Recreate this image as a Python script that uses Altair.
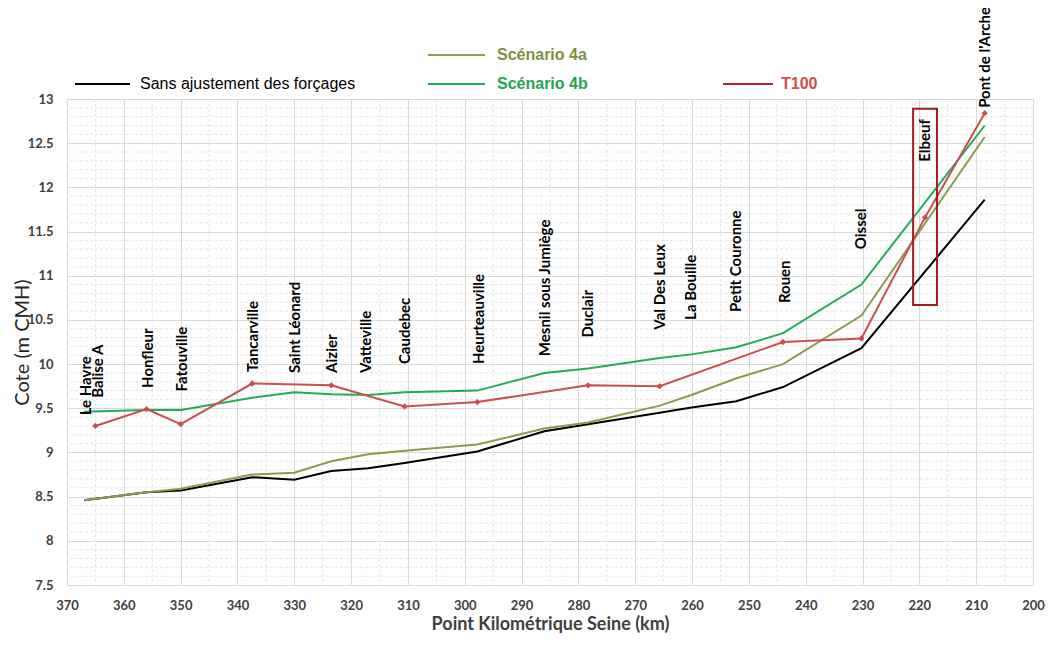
import altair as alt
import pandas as pd

# ---------------- data ----------------
stations = ["Le Havre", "Honfleur", "Fatouville", "Tancarville", "Saint Léonard", "Aizier",
            "Vatteville", "Caudebec", "Heurteauville", "Mesnil sous Jumiège", "Duclair",
            "Val Des Leux", "La Bouille", "Petit Couronne", "Rouen", "Oissel", "Pont de l'Arche"]
station_km = [367, 356, 350, 337.4, 330, 323.5, 317, 310.6, 297.8, 286, 278.3,
              265.7, 260.1, 252.2, 244, 230.2, 208.5]
sans_ajustement = [8.46, 8.55, 8.57, 8.72, 8.69, 8.79, 8.82, 8.88, 9.01, 9.24, 9.32,
                   9.45, 9.51, 9.58, 9.74, 10.18, 11.86]
scenario_4a = [8.46, 8.55, 8.59, 8.75, 8.77, 8.90, 8.98, 9.02, 9.09, 9.27, 9.34,
               9.53, 9.65, 9.84, 10.00, 10.55, 12.57]
scenario_4b = [9.46, 9.48, 9.48, 9.62, 9.68, 9.66, 9.65, 9.68, 9.70, 9.90, 9.95,
               10.07, 10.11, 10.19, 10.35, 10.90, 12.70]

t100_km = [365, 356, 350, 337.4, 323.5, 310.6, 297.8, 278.3, 265.7, 244, 230.2, 219, 208.5]
t100 = [9.30, 9.49, 9.32, 9.78, 9.76, 9.52, 9.57, 9.76, 9.75, 10.25, 10.29, 11.66, 12.84]

label_names = ["Le Havre", "Balise A", "Honfleur", "Fatouville", "Tancarville", "Saint Léonard",
               "Aizier", "Vatteville", "Caudebec", "Heurteauville", "Mesnil sous Jumiège",
               "Duclair", "Val Des Leux", "La Bouille", "Petit Couronne", "Rouen", "Oissel",
               "Elbeuf", "Pont de l'Arche"]
label_km = [366.6, 364.6, 355.8, 349.7, 337.3, 329.8, 323.3, 317.3, 310.5, 297.5, 285.8,
            278.3, 265.7, 260.1, 252.2, 243.6, 230.2, 219.0, 208.5]
label_cote = [9.42, 9.62, 9.73, 9.69, 9.91, 9.90, 9.90, 9.90, 10.00, 10.00, 10.09,
              10.30, 10.39, 10.50, 10.59, 10.69, 11.30, 12.29, 12.90]

box_km = [221.1, 216.9]
box_cote = [10.67, 12.89]

x_ticks = list(range(200, 371, 10))
y_ticks = [7.5, 8, 8.5, 9, 9.5, 10, 10.5, 11, 11.5, 12, 12.5, 13]
x_minor = list(range(205, 370, 10))
y_minor = [round(7.5 + i * 0.1, 1) for i in range(1, 55) if i % 5 != 0]

series_names = ["Sans ajustement des forçages", "Scénario 4a", "Scénario 4b", "T100"]
series_colors = ["#000000", "#8C9B4C", "#22AC5A", "#C9504F"]

# ---------------- tables ----------------
rows = []
for name, vals in zip(series_names[:3], [sans_ajustement, scenario_4a, scenario_4b]):
    for k, v in zip(station_km, vals):
        rows.append({"serie": name, "km": k, "cote": v})
lines_df = pd.DataFrame(rows)
t100_df = pd.DataFrame({"serie": "T100", "km": t100_km, "cote": t100})
labels_df = pd.DataFrame({"nom": label_names, "km": label_km, "cote": label_cote})
box_df = pd.DataFrame({"km": [box_km[0]], "km2": [box_km[1]],
                       "cote": [box_cote[0]], "cote2": [box_cote[1]]})

FONT = "Lato"
xscale = alt.Scale(domain=[200, 370], reverse=True, nice=False, zero=False)
yscale = alt.Scale(domain=[7.5, 13], nice=False, zero=False)
color = alt.Color("serie:N", scale=alt.Scale(domain=series_names, range=series_colors), legend=None)

x_axis = alt.Axis(values=x_ticks, title="Point Kilométrique Seine (km)",
                  labelFont=FONT, labelFontWeight="bold", labelFontSize=13,
                  labelColor="#404040", labelPadding=14, ticks=False, domain=False,
                  grid=True, gridColor="#D9D9D9", titleFont=FONT,
                  titleFontWeight="bold", titleFontSize=18, titleColor="#404040",
                  titlePadding=3, labelFlush=False)
y_axis = alt.Axis(values=y_ticks, format=".1~f", title="Cote (m CMH)",
                  labelFont=FONT, labelFontWeight="bold", labelFontSize=13,
                  labelColor="#404040", labelPadding=14, ticks=False, domain=False,
                  grid=True, gridColor="#D9D9D9", titleFont=FONT,
                  titleFontWeight="normal", titleFontSize=20, titleColor="#262626",
                  titlePadding=-5, labelFlush=False)

X = lambda f="km:Q": alt.X(f, scale=xscale, axis=x_axis)
Y = lambda f="cote:Q": alt.Y(f, scale=yscale, axis=y_axis)

grid_x_minor = alt.Chart(pd.DataFrame({"km": x_minor})).mark_rule(
    color="#E6E6E6", strokeDash=[3, 2], strokeWidth=1
).encode(x=X())
grid_y_minor = alt.Chart(pd.DataFrame({"cote": y_minor})).mark_rule(
    color="#E6E6E6", strokeDash=[3, 2], strokeWidth=1
).encode(y=Y())

base_lines = alt.Chart(lines_df).mark_line(strokeWidth=2).encode(
    x=X(), y=Y(), color=color, detail="serie:N",
)

t100_line = alt.Chart(t100_df).mark_line(
    strokeWidth=2,
    point=alt.OverlayMarkDef(shape="diamond", size=40, filled=True, color="#C9504F"),
).encode(x=X(), y=Y(), color=color)

station_labels = alt.Chart(labels_df).mark_text(
    angle=270, align="left", baseline="middle", font=FONT, fontWeight="bold",
    fontSize=15, color="#000000"
).encode(x=X(), y=Y(), text="nom:N")

box = alt.Chart(box_df).mark_rect(fillOpacity=0, stroke="#A61C1C", strokeWidth=2).encode(
    x=X(), x2="km2:Q", y=Y(), y2="cote2:Q",
)

# ---------------- manual legend ----------------
legend_layers = []
legend_spec = [
    (series_names[0], "#000000", "#000000", "normal", 8, 63, 73, -15),
    (series_names[1], "#8C9B4C", "#7F9143", "bold", 361, 418, 430, -44),
    (series_names[2], "#22AC5A", "#1FA653", "bold", 361, 418, 430, -15),
    (series_names[3], "#B22222", "#C9504F", "bold", 656, 706, 714, -15),
]
for name, lcol, tcol, weight, x0, x1, xt, yy in legend_spec:
    d = pd.DataFrame({"s": [name]})
    legend_layers.append(
        alt.Chart(d).mark_rule(color=lcol, strokeWidth=2).encode(
            x=alt.value(x0), x2=alt.value(x1), y=alt.value(yy)))
    legend_layers.append(
        alt.Chart(d).mark_text(align="left", baseline="middle", font="Liberation Sans",
                               fontSize=16, fontWeight=weight, color=tcol).encode(
            x=alt.value(xt), y=alt.value(yy), text="s:N"))

chart = alt.layer(
    grid_x_minor, grid_y_minor, base_lines, t100_line, station_labels, box, *legend_layers
).properties(
    width=966, height=486,
    autosize=alt.AutoSizeParams(type="none"),
    padding={"left": 59, "top": 91, "right": 12, "bottom": 51},
).configure_view(stroke="#D9D9D9").configure(background="white")

chart.save("out.html", embed_options={"renderer": "svg", "actions": False})
